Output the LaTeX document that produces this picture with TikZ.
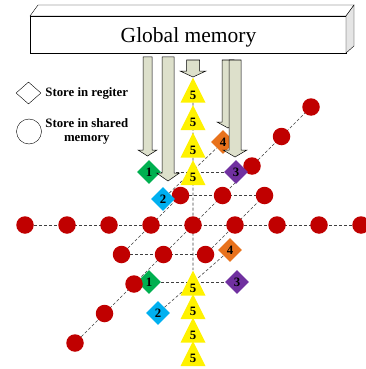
\documentclass[tikz,border=0pt]{standalone}
\usepackage{fontspec}
\setmainfont{Liberation Serif}
\usepackage{tikz}
\usetikzlibrary{shapes, calc, positioning, backgrounds}

\definecolor{smemred}{RGB}{192,0,0}
\definecolor{regone}{RGB}{0,176,80}
\definecolor{regtwo}{RGB}{0,176,240}
\definecolor{regthree}{RGB}{112,48,160}
\definecolor{regfour}{RGB}{232,114,28}
\definecolor{arrowfill}{RGB}{221,224,203}

% block arrow: centre x, half shaft, top, head start, half head, tip
\newcommand{\memarrow}[6]{%
  \draw[black,fill=arrowfill,line width=.5pt] (#1-#2,#3) -- (#1+#2,#3) -- (#1+#2,#4) -- (#1+#5,#4) -- (#1,#6) -- (#1-#5,#4) -- (#1-#2,#4) -- cycle;}

\tikzset{
  smem/.style={circle,fill=smemred,minimum size=17.5pt,inner sep=0pt},
  reg/.style={diamond,minimum width=24pt,minimum height=24pt,inner sep=0pt,font=\fontsize{12.8}{14}\selectfont\bfseries},
  tri/.style={isosceles triangle,isosceles triangle stretches,shape border rotate=90,fill=yellow,minimum width=25pt,minimum height=25pt,inner sep=0pt,anchor=apex,font=\fontsize{12.8}{14}\selectfont\bfseries},
  link/.style={dash pattern=on 3pt off 2pt,black!75,line width=.6pt},
  legend/.style={inner sep=0pt,align=center,font=\fontsize{12.8}{14.3}\selectfont\bfseries}
}

\begin{document}
\begin{tikzpicture}[x=1pt,y=-1pt]
\useasboundingbox (0,0) rectangle (365,369);

% set stencil centre and grid steps
\pgfmathsetmacro{\cx}{193}
\pgfmathsetmacro{\cy}{225}
\pgfmathsetmacro{\hstep}{42}
\pgfmathsetmacro{\dstep}{29.5}

% global memory block
\draw[fill=white] (30,16) rectangle (346,53);
\draw[fill=white] (30,16) -- (38,5) -- (354,5) -- (346,16) -- cycle;
\draw[fill=gray!20] (346,16) -- (354,5) -- (354,46) -- (346,53) -- cycle;
\node[anchor=base,inner sep=0pt,font=\fontsize{21.5}{24}\selectfont] (gm) at (188.5,42) {Global memory};

% legend
\node[diamond,draw,fill=white,minimum width=25pt,minimum height=22pt,inner sep=0pt] (lgreg) at (28.5,93) {};
\node[legend,right=4pt of lgreg] (lgregtxt) {Store in regiter};
\node[circle,draw,minimum size=25pt,inner sep=0pt] (lgsmem) at (29,131.5) {};
\node[legend,right=3.5pt of lgsmem] (lgsmemtxt) {Store in shared\\memory};

% lower register set
\node[reg,fill=regone] (rl1) at (149,282) {1};
\node[reg,fill=regtwo] (rl2) at (158,313) {2};
\node[reg,fill=regthree] (rl3) at (237,282) {3};
\node[reg,fill=regfour] (rl4) at (230,250) {4};

% shared memory points: x line, depth line, and the plane around the centre
\node[smem,alias=g0] (h0) at (\cx,\cy) {};
\foreach \i in {-4,-3,-2,-1,1,2,3,4}{
  \node[smem] (h\i) at ({\cx+\hstep*\i},\cy) {};
  \node[smem] (g\i) at ({\cx+\dstep*\i},{\cy-\dstep*\i}) {};
}
\node[smem] (bl) at ({\cx-\hstep+\dstep},{\cy-\dstep}) {};
\node[smem] (br) at ({\cx+\hstep+\dstep},{\cy-\dstep}) {};
\node[smem] (fl) at ({\cx-\hstep-\dstep},{\cy+\dstep}) {};
\node[smem] (fr) at ({\cx+\hstep-\dstep},{\cy+\dstep}) {};

% register points along y
\foreach \n/\ya in {1/77,2/104.5,3/132,4/159.5}
  \node[tri] (tu\n) at (\cx,\ya) {5};
\foreach \n/\ya in {1/270,2/293.5,3/317,4/340.5}
  \node[tri] (tl\n) at (\cx,\ya) {5};

% hidden arrow behind register 4
\memarrow{228}{6}{60}{122}{11}{128}

% upper register set
\node[reg,fill=regone] (ru1) at (149,172) {1};
\node[reg,fill=regtwo] (ru2) at (163,199) {2};
\node[reg,fill=regthree] (ru3) at (236,172) {3};
\node[reg,fill=regfour] (ru4) at (223,142) {4};

% loads from global memory
\memarrow{147.5}{4.5}{57}{150}{9.5}{156}
\memarrow{168}{6}{57}{173}{11.5}{181}
\memarrow{193}{6.5}{60}{71}{13}{77}
\memarrow{235}{6}{60}{150}{12}{157}

% dashed links behind everything
\begin{pgfonlayer}{background}
  \draw[link] (h-4) -- (h4);
  \draw[link] (g-4) -- (g4);
  \draw[link] (bl) -- (br);
  \draw[link] (fl) -- (fr);
  \draw[link] (fl) -- (bl);
  \draw[link] (fr) -- (br);
  \draw[link] (tu1) -- (tl1);
  \draw[link] (ru1) -- (ru3);
  \draw[link] (ru2) -- (ru4);
  \draw[link] (rl1) -- (rl3);
  \draw[link] (rl2) -- (rl4);
\end{pgfonlayer}

\end{tikzpicture}
\end{document}
